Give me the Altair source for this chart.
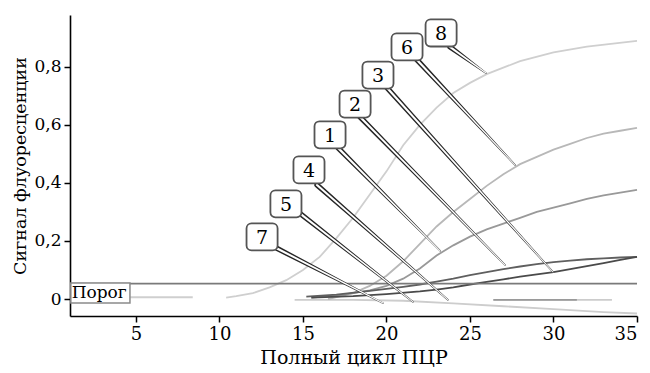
import altair as alt
import pandas as pd

# ---------------- data ----------------
c8a_x = [4.6, 8.4]
c8a_y = [0.006, 0.006]
c8_x = [10.4, 11, 12, 13, 14, 15, 16, 17, 18, 19, 20, 21, 22, 23, 24, 25, 26, 28, 30, 32, 35]
c8_y = [0.005, 0.01, 0.02, 0.04, 0.065, 0.1, 0.145, 0.21, 0.28, 0.36, 0.44, 0.53, 0.6, 0.66,
        0.71, 0.745, 0.775, 0.82, 0.85, 0.87, 0.89]
c6_x = [16.5, 18, 19, 20, 21, 22, 23, 24, 25, 26, 27, 28, 29, 30, 31, 32, 33, 34, 35]
c6_y = [0.0, 0.02, 0.045, 0.08, 0.13, 0.19, 0.25, 0.30, 0.345, 0.39, 0.43, 0.465, 0.49,
        0.515, 0.535, 0.555, 0.57, 0.58, 0.59]
c1_x = [15.5, 17, 18, 19, 20, 21, 22, 23, 24, 25, 26, 27, 28, 29, 30, 31, 32, 33, 34, 35]
c1_y = [0.005, 0.012, 0.02, 0.03, 0.045, 0.07, 0.105, 0.15, 0.185, 0.215, 0.24, 0.26, 0.28,
        0.3, 0.315, 0.33, 0.345, 0.357, 0.367, 0.376]
c2_x = [15.2, 17, 19, 20, 21, 22, 23, 24, 25, 26, 27, 28, 29, 30, 31, 32, 33, 34, 35]
c2_y = [0.008, 0.015, 0.028, 0.035, 0.042, 0.05, 0.06, 0.07, 0.082, 0.093, 0.103, 0.112,
        0.12, 0.127, 0.132, 0.137, 0.14, 0.143, 0.145]
c3_x = [15.5, 18, 20, 22, 23, 24, 25, 26, 27, 28, 29, 30, 31, 32, 33, 34, 35]
c3_y = [0.005, 0.01, 0.017, 0.026, 0.032, 0.04, 0.05, 0.059, 0.068, 0.077, 0.085, 0.093,
        0.103, 0.113, 0.124, 0.135, 0.145]
c7_x = [14.5, 18, 21, 24, 27, 30, 33, 35]
c7_y = [-0.003, -0.003, -0.006, -0.015, -0.025, -0.035, -0.045, -0.05]
c4_x = [26.4, 33.5]
c4_y = [-0.003, -0.003]
c5_x = [26.4, 31.4]
c5_y = [-0.003, -0.003]

threshold = 0.053
threshold_label = "Порог"

labels = ["8", "6", "3", "2", "1", "4", "5", "7"]
label_x = [23.27, 21.23, 19.49, 18.12, 16.62, 15.36, 13.98, 12.55]
label_y = [0.917, 0.869, 0.772, 0.672, 0.566, 0.445, 0.328, 0.214]
lead_x = [23.8, 21.83, 20.03, 18.41, 17.1, 15.84, 14.7, 13.39]
lead_y = [0.869, 0.824, 0.728, 0.628, 0.521, 0.393, 0.30, 0.176]
tip_x = [25.96, 27.7, 29.97, 27.1, 23.21, 23.68, 21.59, 19.79]
tip_y = [0.779, 0.462, 0.093, 0.117, 0.166, -0.003, -0.01, -0.014]

x_ticks = [5, 10, 15, 20, 25, 30, 35]
y_ticks = [0, 0.2, 0.4, 0.6, 0.8]

# ---------------- build tables ----------------
series = [
    ("c8a", c8a_x, c8a_y), ("c8", c8_x, c8_y), ("c7", c7_x, c7_y), ("c4", c4_x, c4_y),
    ("c6", c6_x, c6_y), ("c1", c1_x, c1_y), ("c5", c5_x, c5_y),
    ("c2", c2_x, c2_y), ("c3", c3_x, c3_y),
]
seg_colors = {"c8a": "#cfcfcf", "c8": "#cfcfcf", "c7": "#cdcdcd", "c4": "#cccccc",
              "c6": "#b8b8b8", "c1": "#999999", "c5": "#9a9a9a", "c2": "#5f5f5f", "c3": "#4a4a4a"}
rows = []
for name, xs_, ys_ in series:
    for i, (a, b) in enumerate(zip(xs_, ys_)):
        rows.append({"x": a, "y": b, "seg": name, "o": i})
curves = pd.DataFrame(rows)

lead_rows = []
for i, lab in enumerate(labels):
    lead_rows.append({"x": lead_x[i], "y": lead_y[i], "lab": lab, "o": 0, "wd": 5.4, "ww": 2.2})
    lead_rows.append({"x": tip_x[i], "y": tip_y[i], "lab": lab, "o": 1, "wd": 1.5, "ww": 0.0})
leads = pd.DataFrame(lead_rows)

BW, BH = 0.93, 0.0466  # half box size in data units
boxes = pd.DataFrame({
    "lab": labels, "x": label_x, "y": label_y,
    "x1": [v - BW for v in label_x], "x2": [v + BW for v in label_x],
    "y1": [v - BH for v in label_y], "y2": [v + BH for v in label_y],
})

X_MIN, X_MAX = 1.05, 35
Y_MIN, Y_MAX = -0.0586, 0.979
thr = pd.DataFrame({"x": [X_MIN], "x2": [X_MAX], "y": [threshold]})
thr_box = pd.DataFrame({"x": [X_MIN + 0.05], "x2": [4.64], "y": [threshold + 0.002], "y2": [-0.014],
                        "tx": [X_MIN + 0.1], "ty": [0.02], "t": [threshold_label]})

FONT = "DejaVu Serif"
xs = alt.Scale(domain=[X_MIN, X_MAX], nice=False, zero=False)
ys = alt.Scale(domain=[Y_MIN, Y_MAX], nice=False, zero=False)
xax = alt.Axis(values=x_ticks, grid=False, tickSize=6, tickWidth=1.5, tickColor="black",
               domainColor="black", domainWidth=1.6, labelFont=FONT, labelFontSize=18,
               labelColor="black", titleFont=FONT, titleFontSize=19, titleFontWeight="normal",
               titleColor="black", titlePadding=5, labelPadding=3)
yax = alt.Axis(values=y_ticks, grid=False, tickSize=6, tickWidth=1.5, tickColor="black",
               domainColor="black", domainWidth=1.6, labelFont=FONT, labelFontSize=17,
               labelColor="black", titleFont=FONT, titleFontSize=17.5, titleFontWeight="normal",
               titleColor="black", titlePadding=4, labelPadding=3,
               labelExpr="datum.value == 0 ? '0' : replace(format(datum.value, '.1f'), '.', ',')")
XT = "Полный цикл ПЦР"
YT = "Сигнал флуоресценции"


def X(f="x"):
    return alt.X(f + ":Q", scale=xs, axis=xax, title=XT)


def Y(f="y"):
    return alt.Y(f + ":Q", scale=ys, axis=yax, title=YT)


seg_names = [s[0] for s in series]
lines = alt.Chart(curves).mark_line(strokeWidth=1.8).encode(
    x=X(), y=Y(),
    color=alt.Color("seg:N", scale=alt.Scale(domain=seg_names, range=[seg_colors[s] for s in seg_names]),
                    legend=None),
    detail="seg:N", order="o:Q",
)

thr_line = alt.Chart(thr).mark_rule(color="#7a7a7a", strokeWidth=1.8).encode(
    x=X(), x2="x2:Q", y=Y())

thr_rect = alt.Chart(thr_box).mark_rect(fill="white", stroke="#8a8a8a", strokeWidth=1.5).encode(
    x=X(), x2="x2:Q", y=Y(), y2="y2:Q")
thr_text = alt.Chart(thr_box).mark_text(font=FONT, fontSize=17, align="left", baseline="middle",
                                        color="black").encode(
    x=X("tx"), y=Y("ty"), text="t:N")

lead_dark = alt.Chart(leads).mark_trail(color="#262626").encode(
    x=X(), y=Y(), detail="lab:N", order="o:Q", size=alt.Size("wd:Q", scale=None, legend=None))
lead_white = alt.Chart(leads).mark_trail(color="white").encode(
    x=X(), y=Y(), detail="lab:N", order="o:Q", size=alt.Size("ww:Q", scale=None, legend=None))

box_rect = alt.Chart(boxes).mark_rect(fill="white", stroke="#555555", strokeWidth=1.8,
                                      cornerRadius=5).encode(
    x=X("x1"), x2="x2:Q", y=Y("y1"), y2="y2:Q")
box_text = alt.Chart(boxes).mark_text(font=FONT, fontSize=19, color="black", baseline="middle",
                                      dy=1).encode(x=X(), y=Y(), text="lab:N")

chart = alt.layer(lines, thr_line, lead_dark, lead_white, box_rect, box_text, thr_rect, thr_text).properties(
    width=567, height=301, autosize="none",
    padding={"left": 62, "top": 7, "right": 5, "bottom": 57},
).configure_view(stroke=None)

chart.save("out.html", embed_options={"renderer": "svg", "actions": False})
